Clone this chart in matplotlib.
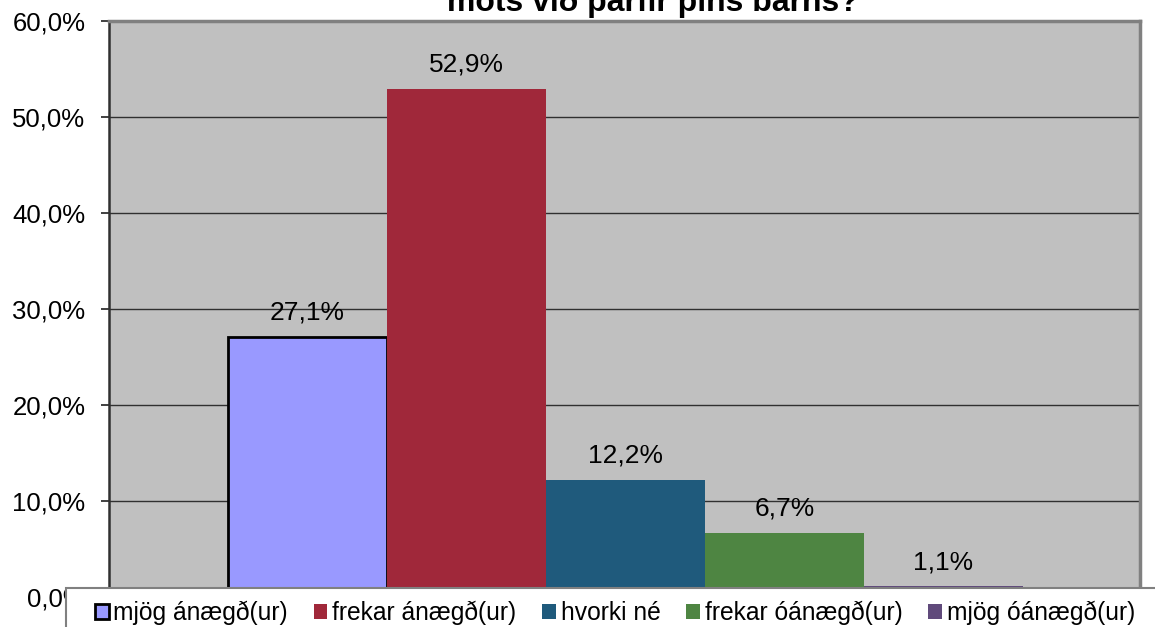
import matplotlib.pyplot as plt
from matplotlib.patches import Rectangle
from matplotlib.ticker import FuncFormatter
import numpy as np

plt.rcParams['font.family'] = ['Liberation Sans', 'DejaVu Sans']

labels = ['mjög ánægð(ur)', 'frekar ánægð(ur)', 'hvorki né', 'frekar óánægð(ur)', 'mjög óánægð(ur)']
values = [27.1, 52.9, 12.2, 6.7, 1.1]
colors = ['#9999FF', '#A0283A', '#1F5A7C', '#4E8542', '#604A7B']
title = 'móts við þarfir þíns barns?'

W, H = 1155, 627
fig = plt.figure(figsize=(W / 100, H / 100), dpi=100)
ax = fig.add_axes([109 / W, 30 / H, 1031 / W, 576 / H])
ax.set_facecolor('#C0C0C0')

width = 0.1542
x = (np.arange(len(values)) - 2) * width + 0.001
bars = []
for i, (v, c, lab) in enumerate(zip(values, colors, labels)):
    edge = 'black' if i == 0 else 'none'
    b = ax.bar(x[i], v, width, color=c, edgecolor=edge, linewidth=2 if i == 0 else 0,
               label=lab, zorder=3)
    bars.append(b)
    ax.text(x[i], v + 1.8, f'{v:.1f}%'.replace('.', ','), ha='center', va='baseline',
            fontsize=19, zorder=4)

ax.set_xlim(-0.5, 0.5)
ax.set_ylim(0, 60)
ax.set_yticks(np.arange(0, 61, 10))
ax.yaxis.set_major_formatter(FuncFormatter(lambda v, p: f'{v:.1f}%'.replace('.', ',')))
ax.tick_params(axis='y', labelsize=18.5, length=6, width=1.2, pad=11, color='#202020')
ax.set_xticks([])
ax.grid(axis='y', color='#303030', linewidth=1, zorder=1)
for s in ('top', 'right'):
    ax.spines[s].set_color('#808080')
    ax.spines[s].set_linewidth(2.5)
ax.spines['left'].set_color('#303030')
ax.spines['left'].set_linewidth(1.8)
ax.spines['bottom'].set_visible(False)

fig.text(653 / W, 1 - 11 / H, title, ha='center', va='baseline', fontsize=23, fontweight='bold')

# legend box overlapping the bottom of the plot
fig.patches.append(Rectangle((66 / W, -0.1), 1.0, 1.1 - 588 / H, transform=fig.transFigure,
                             facecolor='white', edgecolor='#808080', linewidth=1.5, zorder=2))
leg = fig.legend(handles=bars, labels=labels, loc='center left', ncol=5,
                 bbox_to_anchor=(95 / W, 1 - 613 / H), frameon=False, fontsize=17.7,
                 handlelength=0.55, handleheight=0.55, handletextpad=0.2, columnspacing=1.05,
                 borderaxespad=0, borderpad=0)
leg.set_zorder(5)

fig.savefig('out.png', dpi=100)
